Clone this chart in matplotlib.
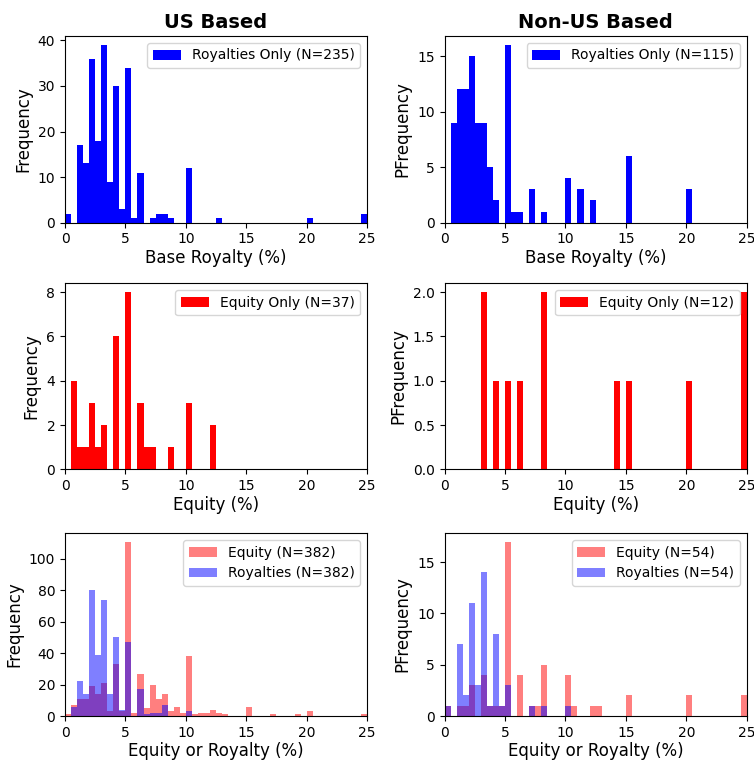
import numpy as np
import matplotlib
matplotlib.use("Agg")
import matplotlib.pyplot as plt

# Histogram bin edges (0-25 %, width 0.5)
bin_edges = np.arange(0, 25.5, 0.5)

# --- US based, royalties only: bin left edge -> count
us_roy_x = [0, 1, 1.5, 2, 2.5, 3, 3.5, 4, 4.5, 5, 5.5, 6, 7, 7.5, 8, 8.5, 10, 12.5, 20, 24.5]
us_roy_n = [2, 17, 13, 36, 18, 39, 9, 30, 3, 34, 1, 11, 1, 2, 2, 1, 12, 1, 1, 2]

# --- Non-US based, royalties only
nus_roy_x = [0.5, 1, 1.5, 2, 2.5, 3, 3.5, 4, 5, 5.5, 6, 7, 8, 10, 11, 12, 15, 20]
nus_roy_n = [9, 12, 12, 15, 9, 9, 5, 2, 16, 1, 1, 3, 1, 4, 3, 2, 6, 3]

# --- US based, equity only
us_eq_x = [0.5, 1, 1.5, 2, 2.5, 3, 4, 5, 6, 6.5, 7, 8.5, 10, 12]
us_eq_n = [4, 1, 1, 3, 1, 2, 6, 8, 3, 1, 1, 1, 3, 2]

# --- Non-US based, equity only
nus_eq_x = [3, 4, 5, 6, 8, 14, 15, 20, 24.5]
nus_eq_n = [2, 1, 1, 1, 2, 1, 1, 1, 2]

# --- US based, both: equity
us_both_eq_x = [0, 0.5, 1, 1.5, 2, 2.5, 3, 3.5, 4, 4.5, 5, 5.5, 6, 6.5, 7, 7.5, 8,
                8.5, 9, 9.5, 10, 10.5, 11, 11.5, 12, 12.5, 13, 15, 17, 19, 20, 24.5]
us_both_eq_n = [1, 7, 11, 11, 19, 14, 21, 3, 33, 3, 111, 2, 27, 5, 20, 11, 14,
                3, 6, 2, 38, 1, 2, 2, 4, 2, 1, 6, 1, 1, 3, 1]
# --- US based, both: royalties
us_both_roy_x = [0.5, 1, 1.5, 2, 2.5, 3, 3.5, 4, 4.5, 5, 6, 6.5, 7, 7.5, 8, 10]
us_both_roy_n = [6, 22, 14, 80, 39, 74, 14, 50, 4, 47, 17, 1, 2, 2, 7, 3]

# --- Non-US based, both: equity
nus_both_eq_x = [0, 1, 1.5, 2, 3, 3.5, 4, 4.5, 5, 6, 7, 7.5, 8, 10, 10.5, 12, 12.5, 15, 20, 24.5]
nus_both_eq_n = [1, 1, 1, 3, 4, 1, 1, 1, 17, 4, 1, 1, 5, 4, 1, 1, 1, 2, 2, 2]
# --- Non-US based, both: royalties
nus_both_roy_x = [0, 1, 1.5, 2, 2.5, 3, 3.5, 4, 4.5, 5, 7, 8, 10]
nus_both_roy_n = [1, 7, 2, 11, 3, 14, 1, 8, 1, 3, 1, 1, 1]

titles = ["US Based", "Non-US Based"]
xlabels = ["Base Royalty (%)", "Equity (%)", "Equity or Royalty (%)"]
ylabels_left = "Frequency"
ylabels_right = "PFrequency"


def hist(ax, xs, ns, **kw):
    ax.hist(np.array(xs) + 0.25, bins=bin_edges, weights=ns, **kw)


fig = plt.figure(figsize=(7.54, 7.61), dpi=100)
lefts = [65 / 754, 444.5 / 754]
widths = [302 / 754, 302.2 / 754]
bottoms = [1 - 222.7 / 761, 1 - 469.3 / 761, 1 - 716 / 761]
heights = [(222.7 - 36) / 761, (469.3 - 283.3) / 761, (716 - 533) / 761]

axes = [[fig.add_axes([lefts[c], bottoms[r], widths[c], heights[r]]) for c in range(2)] for r in range(3)]

# Row 1
hist(axes[0][0], us_roy_x, us_roy_n, color="blue", label=f"Royalties Only (N={sum(us_roy_n)})")
hist(axes[0][1], nus_roy_x, nus_roy_n, color="blue", label="Royalties Only (N=115)")
# Row 2
hist(axes[1][0], us_eq_x, us_eq_n, color="red", label=f"Equity Only (N={sum(us_eq_n)})")
hist(axes[1][1], nus_eq_x, nus_eq_n, color="red", label=f"Equity Only (N={sum(nus_eq_n)})")
# Row 3
hist(axes[2][0], us_both_eq_x, us_both_eq_n, color="red", alpha=0.5, label="Equity (N=382)")
hist(axes[2][0], us_both_roy_x, us_both_roy_n, color="blue", alpha=0.5, label="Royalties (N=382)")
hist(axes[2][1], nus_both_eq_x, nus_both_eq_n, color="red", alpha=0.5, label=f"Equity (N={sum(nus_both_eq_n)})")
hist(axes[2][1], nus_both_roy_x, nus_both_roy_n, color="blue", alpha=0.5, label=f"Royalties (N={sum(nus_both_roy_n)})")

for r in range(3):
    for c in range(2):
        ax = axes[r][c]
        ax.set_xlim(0, 25)
        ax.set_xticks([0, 5, 10, 15, 20, 25])
        ax.set_xlabel(xlabels[r], fontsize=12, labelpad=2)
        ax.set_ylabel(ylabels_left if c == 0 else ylabels_right, fontsize=12)
        ax.legend(loc="upper right", fontsize=10)
        if r == 0:
            ax.set_title(titles[c], fontsize=14, fontweight="bold")

fig.savefig("out.png", dpi=100)
